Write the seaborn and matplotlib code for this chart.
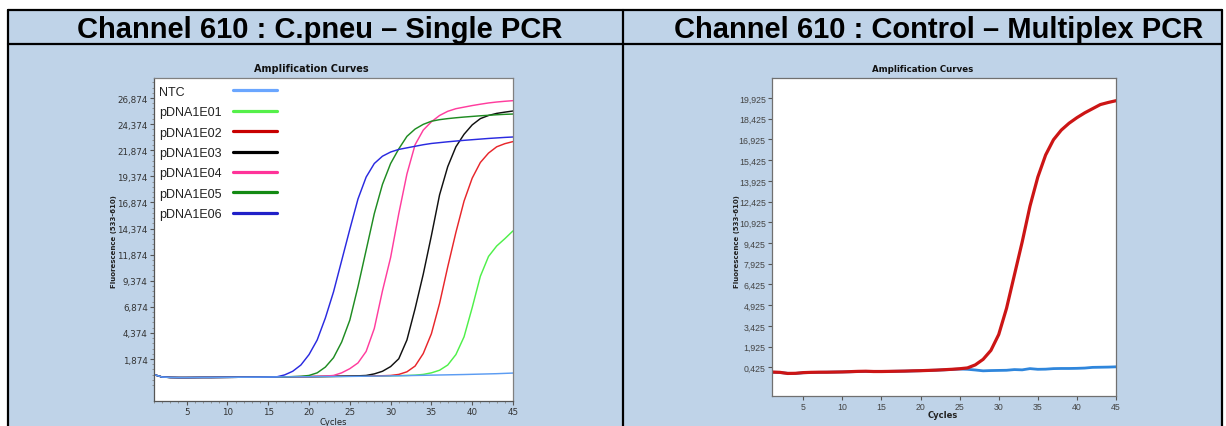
import numpy as np
import pandas as pd
import matplotlib
matplotlib.use("Agg")
import matplotlib.pyplot as plt
import seaborn as sns
from matplotlib.lines import Line2D
from matplotlib.patches import Rectangle

# ---------------- data ----------------
cycles = list(range(1, 46))

left_names = ["NTC", "pDNA1E01", "pDNA1E02", "pDNA1E03", "pDNA1E04", "pDNA1E05", "pDNA1E06"]

ntc = [380, 150, 110, 100, 100, 105, 110, 110, 115, 120, 125, 130, 135, 140, 150, 160,
       165, 170, 175, 180, 185, 190, 195, 200, 210, 220, 230, 240, 250, 260, 270, 285,
       300, 315, 330, 345, 360, 375, 390, 410, 430, 450, 470, 500, 530]
e01 = [380, 150, 110, 100, 100, 105, 110, 110, 115, 120, 125, 130, 135, 140, 150, 160,
       165, 170, 175, 180, 185, 190, 200, 210, 220, 230, 240, 250, 260, 270, 285, 300, 330,
       400, 550, 800, 1300, 2300, 4000, 6800, 9800, 11700, 12700, 13400, 14150]
e02 = [380, 150, 110, 100, 100, 105, 110, 110, 115, 120, 125, 130, 135, 140, 150, 160,
       170, 175, 180, 185, 190, 200, 210, 220, 230, 240, 250, 260, 275,
       300, 400, 650, 1200, 2400, 4300, 7200, 10700, 14000, 17000, 19200, 20700, 21600,
       22200, 22500, 22700]
e03 = [380, 150, 110, 100, 100, 105, 110, 110, 115, 120, 125, 130, 135, 140, 150, 160,
       170, 180, 185, 190, 200, 210, 220, 230, 245, 265,
       300, 450, 700, 1150, 1900, 3700, 6700, 10000, 13700, 17600, 20300, 22200, 23400,
       24300, 24900, 25200, 25400, 25520, 25630]
e04 = [380, 150, 110, 100, 100, 105, 110, 110, 115, 120, 125, 130, 135, 140, 150, 160,
       170, 180, 190, 200, 215, 240,
       300, 550, 950, 1500, 2600, 4800, 8400, 11600, 15800, 19600, 22400, 23800, 24600,
       25200, 25600, 25850, 26000, 26150, 26280, 26400, 26490, 26560, 26620]
e05 = [380, 150, 110, 100, 100, 105, 110, 110, 115, 120, 125, 130, 135, 140, 150, 160,
       170, 190, 220, 300, 550, 1100, 2000, 3500, 5600, 8800, 12300, 15800, 18600, 20600,
       22000, 23200, 23900, 24350, 24650, 24800, 24900, 24980, 25050, 25110, 25170, 25220,
       25270, 25310, 25340]
e06 = [380, 150, 110, 100, 100, 105, 110, 110, 115, 120, 125, 130, 135, 140, 150, 160,
       350, 700, 1300, 2300, 3700, 5800, 8300, 11300, 14300, 17200, 19300, 20600, 21300,
       21700, 21950, 22100, 22250, 22400, 22520, 22600, 22680, 22750, 22820, 22880, 22940,
       23000, 23050, 23100, 23140]
left_values = [ntc, e01, e02, e03, e04, e05, e06]
left_colors = ["#5c9cf2", "#4ff04a", "#e8262b", "#111111", "#ff3d9e", "#1f8c22", "#2a2ae0"]
left_legend_colors = ["#6aa6ff", "#55f04a", "#c80000", "#000000", "#ff3399", "#138a13", "#2020c8"]

left_yticks = [1874, 4374, 6874, 9374, 11874, 14374, 16874, 19374, 21874, 24374, 26874]
left_yticklabels = ["1,874", "4,374", "6,874", "9,374", "11,874", "14,374", "16,874",
                    "19,374", "21,874", "24,374", "26,874"]

right_names = ["Control", "NTC"]
right_red = [80, 60, -20, -10, 40, 60, 70, 70, 80, 90, 110, 130, 140, 120, 120, 130, 140,
             150, 170, 180, 200, 220, 250, 280, 320,
             380, 600, 1000, 1650, 2800, 4700, 7100, 9500, 12100, 14200, 15800, 16900,
             17600, 18100, 18500, 18850, 19150, 19450, 19600, 19730]
right_blue = [70, 50, -10, -20, 30, 50, 60, 70, 80, 90, 100, 120, 130, 120, 120, 130, 140,
              150, 160, 180, 200, 220, 240, 270, 300,
              280, 230, 170, 190, 200, 210, 260, 240, 330, 280, 290, 330, 340, 340, 350,
              370, 420, 430, 440, 460]
right_colors = {"Control": "#cc1515", "NTC": "#2f86dc"}

right_yticks = [425, 1925, 3425, 4925, 6425, 7925, 9425, 10925, 12425, 13925, 15425,
                16925, 18425, 19925]
right_yticklabels = ["0,425", "1,925", "3,425", "4,925", "6,425", "7,925", "9,425",
                     "10,925", "12,425", "13,925", "15,425", "16,925", "18,425", "19,925"]

xticks = [5, 10, 15, 20, 25, 30, 35, 40, 45]

# ---------------- style ----------------
sns.set_theme(style="ticks")
plt.rcParams["font.family"] = ["DejaVu Sans"]

BG = "#bfd3e8"
W, H = 1226, 427


def fx(px):
    return px / W


def fy(py):
    return 1 - py / H


fig = plt.figure(figsize=(12.26, 4.27), dpi=100, facecolor="white")

# table background & borders
fig.add_artist(Rectangle((fx(8), 0), fx(1222) - fx(8), fy(11), transform=fig.transFigure,
                         facecolor=BG, edgecolor="none", zorder=0))
for (xa, ya, xb, yb) in [(8, 11, 1222, 11), (8, 45, 1222, 45), (8, 11, 8, 427),
                         (1222, 11, 1222, 427), (623, 11, 623, 427)]:
    fig.add_artist(Line2D([fx(xa), fx(xb)], [fy(ya), fy(yb)], transform=fig.transFigure,
                          color="black", lw=1.6, zorder=5))

hdr_font = dict(family="Liberation Sans", weight="bold", size=21, color="black")
fig.text(fx(320), fy(38.5), "Channel 610 : C.pneu \u2013 Single PCR", ha="center",
         va="baseline", **hdr_font)
fig.text(fx(938.5), fy(38.5), "Channel 610 : Control \u2013 Multiplex PCR", ha="center",
         va="baseline", **hdr_font)

# ---------------- left panel ----------------
ax1 = fig.add_axes([fx(154), fy(402), fx(513) - fx(154), fy(79) - fy(402)])
ax1.set_facecolor("white")
df_left = pd.DataFrame({
    "Cycle": cycles * len(left_names),
    "Fluorescence": [v for vals in left_values for v in vals],
    "Sample": [n for n in left_names for _ in cycles],
})
draw_order = ["pDNA1E01", "pDNA1E02", "pDNA1E03", "pDNA1E04", "pDNA1E05", "pDNA1E06", "NTC"]
sns.lineplot(data=df_left, x="Cycle", y="Fluorescence", hue="Sample", hue_order=draw_order,
             palette=dict(zip(left_names, left_colors)), linewidth=1.05, legend=False, ax=ax1)
ax1.set_xlim(1, 45)
ax1.set_ylim(-2146, 28790)
ax1.set_xticks(xticks)
ax1.set_xticklabels([str(t) for t in xticks])
ax1.set_yticks(left_yticks)
ax1.set_yticklabels(left_yticklabels)
ax1.set_xticks(list(range(1, 46)), minor=True)
ax1.set_yticks(list(range(-626, 28790, 500)), minor=True)
ax1.tick_params(axis="both", which="major", labelsize=6.3, length=3, width=0.8,
                color="#555555", labelcolor="#333333", pad=1.5)
ax1.tick_params(axis="both", which="minor", length=1.5, width=0.6, color="#888888")
for s in ax1.spines.values():
    s.set_color("#808080")
    s.set_linewidth(0.9)
ax1.spines["left"].set_color("#555555")
ax1.spines["bottom"].set_color("#555555")
ax1.set_xlabel("Cycles", fontsize=6, color="#222222")
ax1.xaxis.set_label_coords(0.4986, -0.0495)
ax1.set_ylabel("Fluorescence (533-610)", fontsize=5, fontweight="bold", color="#222222")
ax1.yaxis.set_label_coords(-0.102, 0.498)
ax1.text(0.437, 1.031, "Amplification Curves", transform=ax1.transAxes, ha="center",
         va="center", fontsize=7, fontweight="bold", color="#111111")

handles = [Line2D([], [], color=c, lw=2.3) for c in left_legend_colors]
leg = ax1.legend(handles, left_names, loc="upper left", bbox_to_anchor=(0.014, 0.976),
                 frameon=False, markerfirst=False,
                 prop={"family": "Liberation Sans", "size": 9},
                 handlelength=3.52, handletextpad=0.88, labelspacing=0.67,
                 borderpad=0, borderaxespad=0, labelcolor="#222222")

# ---------------- right panel ----------------
ax2 = fig.add_axes([fx(772), fy(397), fx(1116) - fx(772), fy(79) - fy(397)])
ax2.set_facecolor("white")
df_right = pd.DataFrame({
    "Cycle": cycles * 2,
    "Fluorescence": right_blue + right_red,
    "Sample": ["NTC"] * len(cycles) + ["Control"] * len(cycles),
})
sns.lineplot(data=df_right[df_right.Sample == "NTC"], x="Cycle", y="Fluorescence",
             color=right_colors["NTC"], linewidth=2.0, legend=False, ax=ax2)
sns.lineplot(data=df_right[df_right.Sample == "Control"], x="Cycle", y="Fluorescence",
             color=right_colors["Control"], linewidth=2.3, legend=False, ax=ax2)
ax2.set_xlim(1, 45)
ax2.set_ylim(-1653, 21373)
ax2.set_xticks(xticks)
ax2.set_xticklabels([str(t) for t in xticks])
ax2.set_yticks(right_yticks)
ax2.set_yticklabels(right_yticklabels)
ax2.tick_params(axis="both", which="major", labelsize=6.3, length=3, width=0.8,
                color="#555555", labelcolor="#444444", pad=1.5)
for lab in ax2.get_xticklabels() + ax2.get_yticklabels():
    lab.set_family("Liberation Sans")
for s in ax2.spines.values():
    s.set_color("#707070")
    s.set_linewidth(0.9)
ax2.set_xlabel("Cycles", fontsize=6, fontweight="bold", color="#222222")
ax2.xaxis.set_label_coords(0.497, -0.044)
ax2.set_ylabel("Fluorescence (533-610)", fontsize=5, fontweight="bold", color="#222222")
ax2.yaxis.set_label_coords(-0.0916, 0.49)
ax2.text(0.439, 1.031, "Amplification Curves", transform=ax2.transAxes, ha="center",
         va="center", fontsize=6.2, fontweight="bold", color="#111111")

# align legend labels left while keeping handles aligned
fig.canvas.draw()
r = fig.canvas.get_renderer()
dpicor = r.points_to_pixels(1.0)
rows = [row for col in leg._legend_handle_box.get_children() for row in col.get_children()]
ws = [row.get_children()[0].get_bbox(r).width for row in rows]
mw = max(ws)
for row, w in zip(rows, ws):
    row.sep = row.sep + (mw - w) / dpicor

fig.savefig("out.png", dpi=100, facecolor=fig.get_facecolor())
